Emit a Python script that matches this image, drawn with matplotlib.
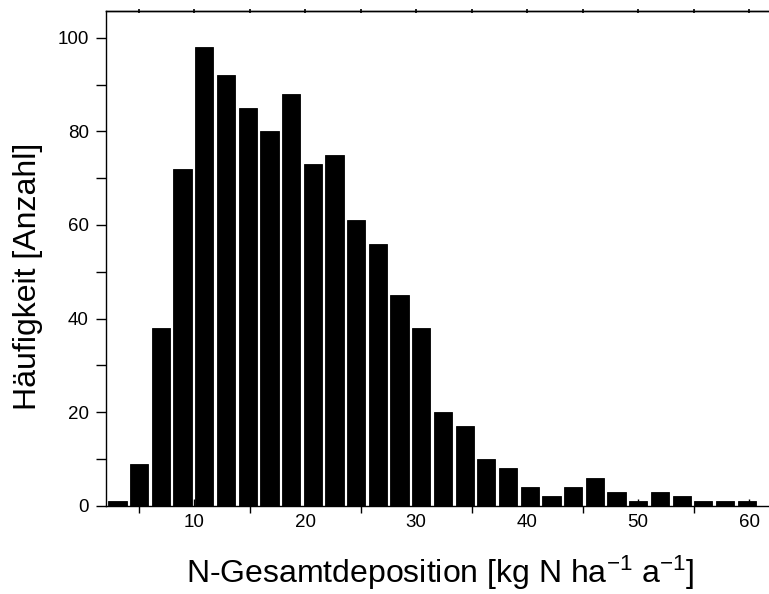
import numpy as np
import matplotlib
matplotlib.use("Agg")
import matplotlib.pyplot as plt
from matplotlib.ticker import MultipleLocator, NullFormatter

plt.rcParams['font.family'] = ['Liberation Sans', 'DejaVu Sans']
plt.rcParams['mathtext.fontset'] = 'custom'
plt.rcParams['mathtext.rm'] = 'Liberation Sans'
plt.rcParams['mathtext.it'] = 'Liberation Sans:italic'

# Histogram of total nitrogen deposition (counts per bin)
bin_start = 2.11
bin_width = 1.955
counts = [1, 9, 38, 72, 98, 92, 85, 80, 88, 73, 75, 61, 56, 45, 38,
          20, 17, 10, 8, 4, 2, 4, 6, 3, 1, 3, 2, 1, 1, 1]

x_label = "N-Gesamtdeposition [kg N ha$^{\\mathregular{-1}}$ a$^{\\mathregular{-1}}$]"
y_label = "Häufigkeit [Anzahl]"

centers = bin_start + bin_width * (np.arange(len(counts)) + 0.5)

fig = plt.figure(figsize=(7.69, 5.94), dpi=100)
ax = fig.add_axes([106 / 769, 88.3 / 594, 662 / 769, 495 / 594])

ax.bar(centers, counts, width=bin_width * 0.84, color='black',
       edgecolor='black', linewidth=0.6)

ax.set_xlim(2.05, 61.7)
ax.set_ylim(0, 105.8)

ax.xaxis.set_major_locator(MultipleLocator(10))
ax.xaxis.set_minor_locator(MultipleLocator(5))
ax.yaxis.set_major_locator(MultipleLocator(20))
ax.yaxis.set_minor_locator(MultipleLocator(10))

ax.tick_params(axis='x', which='major', direction='in', length=5, width=1,
               labelsize=13.5, pad=6, top=False)
ax.tick_params(axis='x', which='minor', direction='out', length=5, width=1,
               top=False)
ax.tick_params(axis='y', which='both', direction='out', length=7.5, width=1,
               labelsize=13.5, pad=5)

for side in ('left', 'bottom', 'top'):
    ax.spines[side].set_linewidth(1.0)
ax.spines['right'].set_visible(False)

# short tick marks along the top frame line
top = ax.secondary_xaxis('top')
top.xaxis.set_major_locator(MultipleLocator(5))
top.xaxis.set_major_formatter(NullFormatter())
top.tick_params(which='major', direction='inout', length=2.5, width=1.2)
top.spines['top'].set_linewidth(1.0)

ax.set_xlabel(x_label, fontsize=23)
ax.xaxis.set_label_coords((440 - 106) / 662, (505.7 - 583) / 495)
ax.xaxis.label.set_va('baseline')

ax.set_ylabel(y_label, fontsize=23)
ax.yaxis.set_label_coords((28 - 106) / 662, (505.7 - 276) / 495)
ax.yaxis.label.set_va('center')

fig.savefig("out.png", dpi=100)
